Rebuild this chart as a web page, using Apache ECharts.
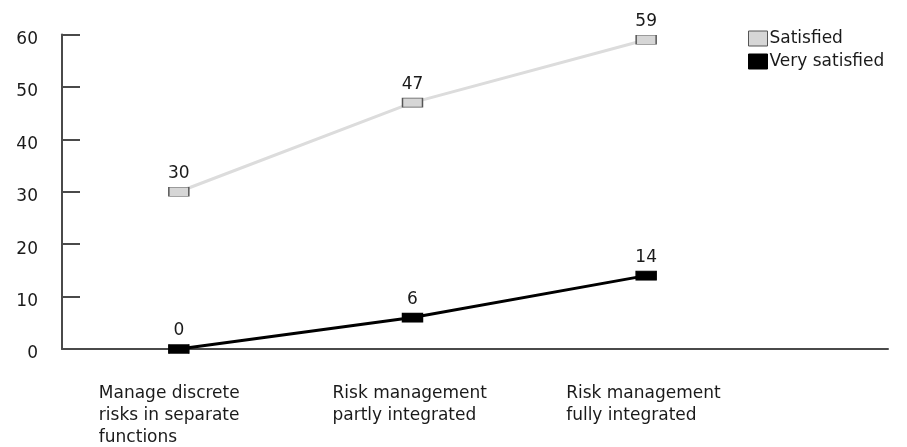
<!DOCTYPE html>
<html>
<head>
<meta charset="utf-8">
<script src="https://cdn.jsdelivr.net/npm/echarts@6/dist/echarts.min.js"></script>
<style>
  html, body { margin: 0; padding: 0; background: #fff; }
  #chart { width: 907px; height: 447px; }
</style>
</head>
<body>
<div id="chart"></div>
<script>
// Integration level of risk management (x positions 0..2)
const categories = [
  'Manage discrete\nrisks in separate\nfunctions',
  'Risk management\npartly integrated',
  'Risk management\nfully integrated'
];
const satisfied = [30, 47, 59];
const verySatisfied = [0, 6, 14];
const yTicks = [0, 10, 20, 30, 40, 50, 60];

const FONT = '"DejaVu Sans", sans-serif';
const TEXT = '#1a1a1a';
const FS = 17;

function pairs(values) {
  return values.map((v, i) => [i, v]);
}

const chart = echarts.init(document.getElementById('chart'), null, { renderer: 'canvas' });

chart.setOption({
  animation: false,
  backgroundColor: '#fff',
  textStyle: { fontFamily: FONT, color: TEXT },
  grid: { left: 62, right: 19, top: 34.5, bottom: 98, containLabel: false },
  legend: {
    orient: 'vertical',
    left: 743,
    top: 25,
    itemWidth: 19,
    itemHeight: 15,
    itemGap: 6,
    icon: 'rect',
    textStyle: { fontFamily: FONT, fontSize: FS, color: TEXT, padding: [0, 0, 0, -3] },
    data: [
      { name: 'Satisfied', itemStyle: { color: '#d6d6d6', borderColor: '#555', borderWidth: 1 } },
      { name: 'Very satisfied', itemStyle: { color: '#000', borderColor: '#000', borderWidth: 1 } }
    ]
  },
  xAxis: {
    type: 'value',
    min: -0.5,
    max: 3.035,
    interval: 0.5,
    splitLine: { show: false },
    axisLine: { show: true, onZero: false, lineStyle: { color: '#4a4a4a', width: 2 } },
    axisTick: { show: false },
    axisLabel: {
      margin: 34,
      showMinLabel: false,
      showMaxLabel: false,
      formatter: function (v) {
        const label = Number.isInteger(v) ? categories[v] : undefined;
        if (label === undefined) return '';
        return label.split('\n').map(l => '{t|' + l + '}').join('\n');
      },
      align: 'center',
      verticalAlign: 'top',
      width: 160,
      rich: {
        t: { align: 'left', fontFamily: FONT, fontSize: FS, color: TEXT, lineHeight: 22 }
      }
    }
  },
  yAxis: {
    type: 'value',
    min: yTicks[0],
    max: yTicks[yTicks.length - 1],
    interval: 10,
    splitLine: { show: false },
    axisLine: { show: true, onZero: false, lineStyle: { color: '#4a4a4a', width: 2 } },
    axisTick: { show: true, inside: true, length: 18, lineStyle: { color: '#4a4a4a', width: 2 } },
    axisLabel: {
      margin: 24,
      fontFamily: FONT,
      fontSize: FS,
      color: TEXT,
      verticalAlign: 'top',
      lineHeight: 20,
      padding: [-5, 0, 0, 0]
    }
  },
  series: [
    {
      name: 'Satisfied',
      type: 'line',
      data: pairs(satisfied),
      symbol: 'rect',
      symbolSize: [20, 9],
      lineStyle: { color: '#dcdcdc', width: 3 },
      itemStyle: { color: '#d6d6d6', borderColor: '#555', borderWidth: 1 },
      label: {
        show: true, position: 'top', distance: 5,
        fontFamily: FONT, fontSize: FS, color: TEXT
      },
      z: 2
    },
    {
      name: 'Very satisfied',
      type: 'line',
      data: pairs(verySatisfied),
      symbol: 'rect',
      symbolSize: [20, 9],
      lineStyle: { color: '#000', width: 3 },
      itemStyle: { color: '#000', borderColor: '#000', borderWidth: 1 },
      label: {
        show: true, position: 'top', distance: 5,
        fontFamily: FONT, fontSize: FS, color: TEXT
      },
      z: 3
    }
  ]
});
</script>
</body>
</html>
